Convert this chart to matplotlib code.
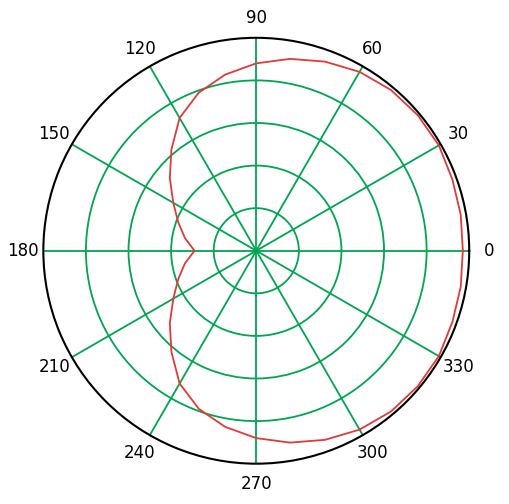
import numpy as np
import matplotlib.pyplot as plt

half_deg = [0, 10, 20, 30, 40, 50, 60, 70, 80, 90, 100, 110, 120, 130, 140, 150, 160, 170, 180]
half_r = [0.97, 0.975, 0.98, 0.99, 0.99, 0.985, 0.97, 0.945, 0.915, 0.88, 0.84, 0.79,
          0.72, 0.62, 0.53, 0.45, 0.39, 0.34, 0.29]
angles_deg = half_deg + [360 - a for a in half_deg[-2::-1]]
radii = half_r + half_r[-2::-1]
tick_deg = list(range(0, 360, 30))

fig = plt.figure(figsize=(5.10, 5.04), dpi=100)
ax = fig.add_axes([0.08, 0.08, 0.845, 0.845], projection='polar')
th = np.deg2rad(angles_deg)
ax.plot(th, radii, color='#e03a3a', lw=1.3)
ax.set_ylim(0, 1)
ax.set_yticks([0.2, 0.4, 0.6, 0.8])
ax.set_yticklabels([])
ax.set_xticks(np.deg2rad(tick_deg))
ax.set_xticklabels([str(t) for t in tick_deg], fontsize=12)
ax.tick_params(axis='x', pad=4)
ax.grid(True, color='#00a550', lw=1.3, ls='-')
ax.spines['polar'].set_color('black')
ax.spines['polar'].set_linewidth(1.5)
fig.savefig('out.png')
